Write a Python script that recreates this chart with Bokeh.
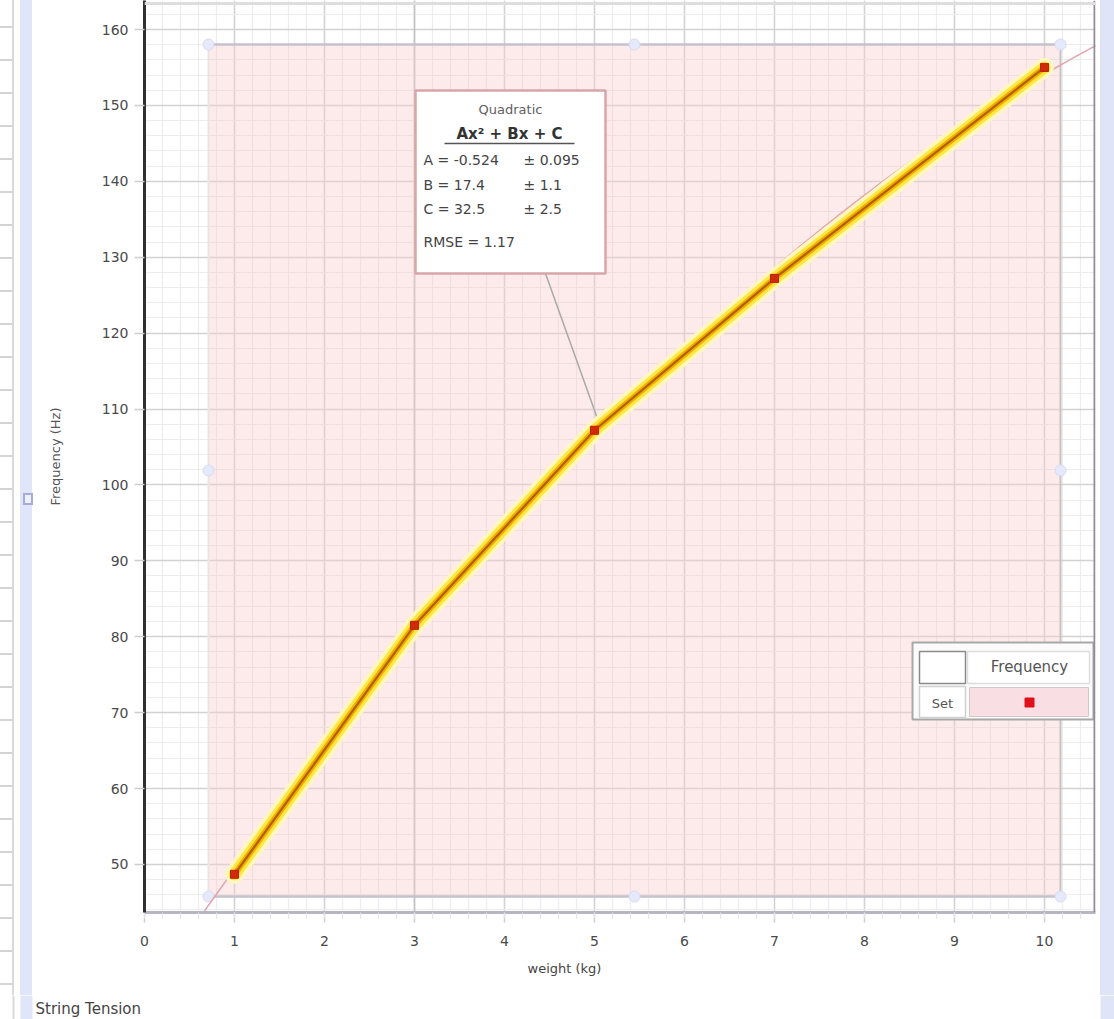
import numpy as np
from bokeh.plotting import figure
from bokeh.layouts import row, column
from bokeh.models import (Range1d, FixedTicker, Label, Span, Title, Div,
                          ColumnDataSource)
from bokeh.embed import file_html
from bokeh.resources import INLINE

# ---------------- data ----------------
weight_kg = [1, 3, 5, 7, 10]
frequency_hz = [48.7, 81.5, 107.2, 127.2, 155.0]
fit_names = ["A", "B", "C"]
fit_values = [-0.524, 17.4, 32.5]
fit_errors = [0.095, 1.1, 2.5]
fit_rmse = 1.17
x_ticks = [0, 1, 2, 3, 4, 5, 6, 7, 8, 9, 10]
y_ticks = [50, 60, 70, 80, 90, 100, 110, 120, 130, 140, 150, 160]
series_name = "Frequency"
set_name = "Set"
page_title = "String Tension"
x_label = "weight (kg)"
y_label = "Frequency (Hz)"

# ---------------- layout (image pixel coordinates) ----------------
FONT = "DejaVu Sans"
PAGE_W, PAGE_H = 1114, 1019
H = 995                           # main row height; a 24px strip below
LEFT_W, RIGHT_W = 34, 16          # window chrome strips
FIG_R = 1098                      # right edge of the figure
FR_L, FR_R, FR_T, FR_B = 144, 1095, 0, 912
PX_X = 90.0
PX_Y = 7.59
X0_IMG, Y160_IMG = 144, 29
X_START = (FR_L - X0_IMG) / PX_X
X_END = (FR_R - X0_IMG) / PX_X
Y_END = 160 + (Y160_IMG - FR_T) / PX_Y
Y_START = 160 - (FR_B - Y160_IMG) / PX_Y


def gx(px):
    return (px - X0_IMG) / PX_X


def gy(py):
    return 160 - (py - Y160_IMG) / PX_Y


W = FIG_R - LEFT_W
p = figure(width=W, height=H, x_range=Range1d(X_START, X_END),
           y_range=Range1d(Y_START, Y_END), output_backend="svg",
           toolbar_location=None, title=None,
           min_border_left=FR_L - LEFT_W, min_border_right=FIG_R - FR_R,
           min_border_top=FR_T, min_border_bottom=H - FR_B,
           background_fill_color="white", border_fill_color="white",
           outline_line_color=None, margin=0)

x_minor = [round(i * 0.2, 2) for i in range(0, 54)]
y_minor = [float(v) for v in range(44, 164, 2)]

xa = p.xaxis[0]
xa.ticker = FixedTicker(ticks=x_ticks, minor_ticks=x_minor)
xa.axis_line_color = "#b6b6c2"
xa.axis_line_width = 3
xa.major_tick_line_color = "#cdcdcd"
xa.major_tick_line_width = 1.5
xa.major_tick_out = 10
xa.major_tick_in = 0
xa.minor_tick_line_color = "#e2e2e2"
xa.minor_tick_out = 6
xa.minor_tick_in = 0
xa.major_label_text_font = FONT
xa.major_label_text_font_size = "14px"
xa.major_label_text_color = "#4a4a4a"
xa.major_label_standoff = 13

ya = p.yaxis[0]
ya.ticker = FixedTicker(ticks=y_ticks, minor_ticks=y_minor)
ya.axis_line_color = "#303030"
ya.axis_line_width = 3
ya.major_tick_line_color = "#cdcdcd"
ya.major_tick_line_width = 1.5
ya.major_tick_out = 10
ya.major_tick_in = 0
ya.minor_tick_line_color = None
ya.major_label_text_font = FONT
ya.major_label_text_font_size = "14px"
ya.major_label_text_color = "#4a4a4a"
ya.major_label_standoff = 6
ya.axis_label = y_label
ya.axis_label_text_font = FONT
ya.axis_label_text_font_size = "13px"
ya.axis_label_text_font_style = "normal"
ya.axis_label_text_color = "#555555"
ya.axis_label_standoff = 36

for g in (p.xgrid[0], p.ygrid[0]):
    g.grid_line_color = "#d2d2d2"
    g.grid_line_width = 1.5
    g.minor_grid_line_color = "#ececec"
    g.minor_grid_line_width = 1.2

# frame borders and darker cursor line at x=3
p.add_layout(Span(location=gx(1094), dimension="height",
                  line_color="#8e8e96", line_width=2))
p.add_layout(Span(location=gy(3), dimension="width",
                  line_color="#dedede", line_width=3))
p.add_layout(Span(location=3, dimension="height", line_color="#c2c2c2",
                  line_width=1.5, level="underlay"))

# ---------------- fit region ----------------
RL, RR, RT, RB = gx(208), gx(1060), gy(44), gy(896)
p.quad(left=[RL], right=[RR], top=[RT], bottom=[RB], fill_color="#f9cccc",
       fill_alpha=0.4, line_color=None)
p.segment(x0=[RL, RL], y0=[RT, RB], x1=[RR, RR], y1=[RT, RB],
          line_color="#c4c2ca", line_width=2.5)
p.segment(x0=[RR], y0=[RB], x1=[RR], y1=[RT], line_color="#c6c2c8",
          line_width=2)
p.segment(x0=[RL], y0=[RB], x1=[RL], y1=[RT], line_color="#ebe3e6",
          line_width=2)
RMX, RMY = gx(634), gy(470)
p.scatter(x=[RL, RMX, RR, RL, RR, RL, RMX, RR],
          y=[RT, RT, RT, RMY, RMY, RB, RB, RB], marker="circle", size=11,
          fill_color="#e6e9fa", line_color="#d7dbf3", line_width=1)

# ---------------- fit curve (from displayed coefficients) ----------------
A, B, C = fit_values
xf = np.linspace(0.6, 10.7, 300)
yf = A * xf ** 2 + B * xf + C
p.line(xf, yf, line_color="#e2a6ae", line_width=1.5)

# connector from fit box to curve
p.segment(x0=[gx(545)], y0=[gy(273)], x1=[gx(598)], y1=[gy(421)],
          line_color="#a9a9a9", line_width=1.5)

# ---------------- selected data set (highlight) ----------------
src = ColumnDataSource(dict(x=weight_kg, y=frequency_hz))
p.line("x", "y", source=src, line_color="#fff7bd", line_width=19,
       line_join="round", line_cap="round")
p.line("x", "y", source=src, line_color="#ffe640", line_width=12,
       line_join="round", line_cap="round")
p.line("x", "y", source=src, line_color="#efae00", line_width=6,
       line_join="round", line_cap="round")
p.line("x", "y", source=src, line_color="#b35e08", line_width=2.2,
       line_join="round")
p.scatter("x", "y", source=src, marker="square", size=8,
          fill_color="#cf2a0a", line_color="#c02000")

# ---------------- fit box ----------------
p.quad(left=[gx(415)], right=[gx(605)], top=[gy(90)], bottom=[gy(273)],
       fill_color="white", line_color="#d8a6aa", line_width=2.5)


def lab(x, y, text, size="14px", color="#444444", align="left",
        style="normal"):
    p.add_layout(Label(x=gx(x), y=gy(y), text=text, text_font=FONT,
                       text_font_size=size, text_color=color,
                       text_align=align, text_baseline="middle",
                       text_font_style=style))


lab(510, 109, "Quadratic", size="13px", color="#606060", align="center")
lab(509, 133, "Ax\u00b2 + Bx + C", size="15px", color="#333333",
    align="center", style="bold")
p.segment(x0=[gx(444)], y0=[gy(143)], x1=[gx(574)], y1=[gy(143)],
          line_color="#555555", line_width=1.5)
row_y = [159, 184, 208]
for name, val, err, yy in zip(fit_names, fit_values, fit_errors, row_y):
    lab(423, yy, f"{name} = {val:g}")
    lab(523, yy, f"\u00b1 {err:g}")
lab(423, 241, f"RMSE = {fit_rmse:g}")

# ---------------- legend table ----------------
p.quad(left=[gx(912)], right=[gx(1093)], top=[gy(642)], bottom=[gy(719)],
       fill_color="#fbfbfb", line_color="#a8a8a8", line_width=2)
p.quad(left=[gx(919), gx(967), gx(919)], right=[gx(965), gx(1089), gx(965)],
       top=[gy(651), gy(651), gy(686)], bottom=[gy(683), gy(683), gy(717)],
       fill_color="white", line_color=["#8a8a8a", "#dddddd", "#cfcfcf"],
       line_width=1.5)
p.quad(left=[gx(969)], right=[gx(1088)], top=[gy(687)], bottom=[gy(716)],
       fill_color="#f9dfe3", line_color="#d0c8ca", line_width=1)
p.scatter(x=[gx(1029)], y=[gy(702)], marker="square", size=9,
          fill_color="#e0101a", line_color="#e0101a")
lab(1029, 666, series_name, size="15px", color="#555555", align="center")
lab(942, 703, set_name, size="13px", color="#555555", align="center")

# ---------------- x-axis title below the frame ----------------
p.add_layout(Title(text=x_label, align="left", offset=527 - FR_L,
                   standoff=21, text_font=FONT, text_font_size="13px",
                   text_font_style="normal", text_color="#444444"), "below")

# ---------------- window chrome ----------------
left_bg = ("repeating-linear-gradient(to bottom, rgba(0,0,0,0) 0px, "
           "rgba(0,0,0,0) 26px, #d4d4d4 26px, #d4d4d4 28px, "
           "rgba(0,0,0,0) 28px, rgba(0,0,0,0) 33px) 0 0 / 12px 100% no-repeat, "
           "linear-gradient(to right, #ffffff 0px, #ffffff 12px, "
           "#d9d9d9 12px, #d9d9d9 14px, #ffffff 14px, #ffffff 20px, "
           "#e0e5f9 20px, #e0e5f9 32px, #ffffff 32px, #ffffff 34px)")
handle = ("<div style='margin-top:493px; margin-left:23px; width:10px; "
          "height:12px; border:2px solid #a6acdf; background:#eef0fc;'>"
          "</div>")
side_l = Div(text=handle, width=LEFT_W, height=H, margin=0,
             styles={"background": left_bg})
side_r = Div(text="", width=RIGHT_W, height=H, margin=0, styles={
    "background": "linear-gradient(to right, #ffffff 0px, #ffffff 2px, "
                  "#dfe4f8 2px, #dfe4f8 16px)"})

# bottom strip (page footer with the page title), pixel coordinates
SH = PAGE_H - H
strip = figure(width=PAGE_W, height=SH, x_range=Range1d(0, PAGE_W),
               y_range=Range1d(0, SH), output_backend="svg",
               toolbar_location=None, title=None, min_border=0,
               x_axis_location=None, y_axis_location=None,
               outline_line_color=None, margin=0,
               background_fill_color="white", border_fill_color="white")
strip.xgrid.visible = False
strip.ygrid.visible = False
strip.quad(left=[12, 20, 1100], right=[14, 32, PAGE_W], bottom=[0, 0, 0],
           top=[SH, SH, SH], fill_color=["#d9d9d9", "#e0e5f9", "#dfe4f8"],
           line_color=None)
strip.add_layout(Label(x=35, y=PAGE_H - 1008, text=page_title,
                       text_font=FONT, text_font_size="15px",
                       text_color="#444444", text_baseline="middle"))

layout = column(row(side_l, p, side_r, spacing=0), strip, spacing=0)
open("out.html", "w").write(file_html(layout, INLINE))
